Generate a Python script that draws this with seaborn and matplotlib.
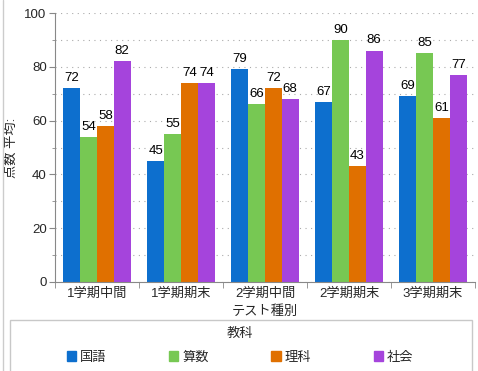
import numpy as np
import pandas as pd
import matplotlib
matplotlib.use('Agg')
import matplotlib.pyplot as plt
from matplotlib.patches import Rectangle
from matplotlib.lines import Line2D
from matplotlib.ticker import MultipleLocator, FixedLocator
import seaborn as sns

# data
tests = ['1学期中間', '1学期期末', '2学期中間', '2学期期末', '3学期期末']
subjects = ['国語', '算数', '理科', '社会']
kokugo = [72, 45, 79, 67, 69]
sansu = [54, 55, 66, 90, 85]
rika = [58, 74, 72, 43, 61]
shakai = [82, 74, 68, 86, 77]
colors = ['#0d6fce', '#77c853', '#e07000', '#a544dc']

df = pd.DataFrame({'テスト種別': tests * 4,
                   '教科': np.repeat(subjects, len(tests)),
                   '点数': kokugo + sansu + rika + shakai})

sns.set_style('white')
plt.rcParams['font.family'] = ['Liberation Sans', 'Noto Sans CJK JP']
fs = 9.5

fig = plt.figure(figsize=(4.78, 3.71), dpi=100)
ax = fig.add_axes([55 / 478, 89 / 371, 420 / 478, 269 / 371])

sns.barplot(data=df, x='テスト種別', y='点数', hue='教科', order=tests, hue_order=subjects,
            palette=colors, width=0.8, saturation=1, linewidth=0, ax=ax, legend=False)

for c in ax.containers:
    ax.bar_label(c, padding=3, fontsize=fs, color='black')

ax.set_ylim(0, 100)
ax.set_xlim(-0.5, len(tests) - 0.5)
ax.yaxis.set_major_locator(MultipleLocator(20))
ax.yaxis.set_minor_locator(MultipleLocator(10))
ax.grid(axis='y', which='both', linestyle=(0, (1, 4)), color='#aaaaaa', linewidth=0.8)
ax.set_axisbelow(True)

ax.xaxis.set_minor_locator(FixedLocator(np.arange(-0.5, len(tests), 1.0)))
ax.tick_params(axis='x', which='major', length=0, pad=4, labelsize=fs)
ax.tick_params(axis='x', which='minor', length=4, color='#888888', bottom=True)
ax.tick_params(axis='y', which='major', length=4, pad=2, color='#888888', left=True, labelsize=fs)
ax.tick_params(axis='y', which='minor', length=2, color='#888888', left=True)

for side in ['top', 'right']:
    ax.spines[side].set_visible(False)
for side in ['left', 'bottom']:
    ax.spines[side].set_color('#888888')
    ax.spines[side].set_linewidth(0.8)

ax.set_xlabel('テスト種別', fontsize=fs, labelpad=4)
ax.set_ylabel('点数 平均:', fontsize=fs)
ax.yaxis.set_label_coords((18 - 55) / 420, 0.5)

# left border and legend frame
fig.add_artist(Line2D([3 / 478, 3 / 478], [0, 1], color='#cccccc', linewidth=1))
fig.add_artist(Rectangle((10 / 478, -0.05), 462 / 478, (371 - 320) / 371 + 0.05,
                         transform=fig.transFigure, fill=False, edgecolor='#c8c8c8', linewidth=1))

handles = [Rectangle((0, 0), 1, 1, color=c) for c in colors]
leg = fig.legend(handles, subjects, title='教科', loc='center', ncol=4,
                 bbox_to_anchor=(240 / 478, 25 / 371), frameon=False, fontsize=fs,
                 title_fontsize=fs, handlelength=0.7, handleheight=0.7, handletextpad=0.3,
                 columnspacing=4.75, labelspacing=0.5)
leg._legend_box.sep = 8

fig.savefig('out.png', dpi=100)
